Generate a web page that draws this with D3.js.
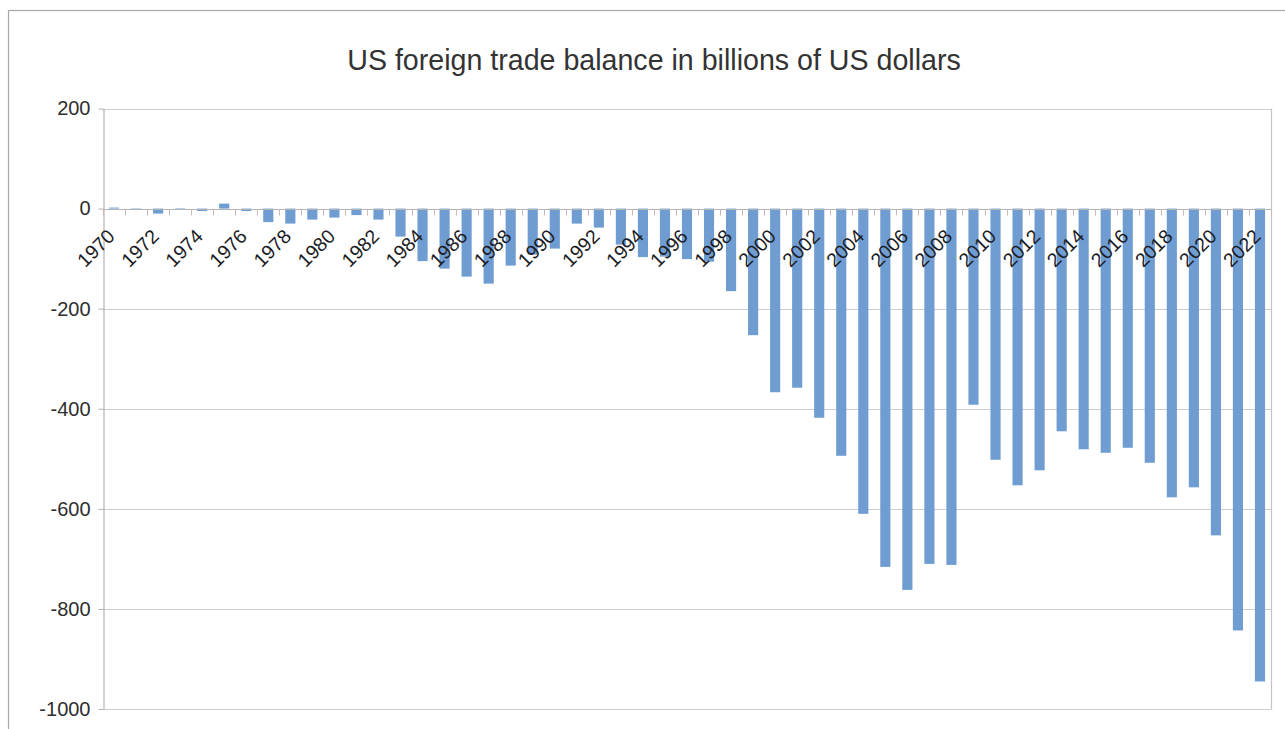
<!DOCTYPE html>
<html>
<head>
<meta charset="utf-8">
<script src="https://cdn.jsdelivr.net/npm/d3@7/dist/d3.min.js"></script>
<style>
  html, body { margin: 0; padding: 0; background: #fff; }
  svg { display: block; font-family: "Liberation Sans", Arial, sans-serif; }
</style>
</head>
<body>
<svg id="chart" width="1285" height="729"></svg>
<script>
// Years on the category axis
const years = [
  1970, 1971, 1972, 1973, 1974, 1975, 1976, 1977, 1978, 1979,
  1980, 1981, 1982, 1983, 1984, 1985, 1986, 1987, 1988, 1989,
  1990, 1991, 1992, 1993, 1994, 1995, 1996, 1997, 1998, 1999,
  2000, 2001, 2002, 2003, 2004, 2005, 2006, 2007, 2008, 2009,
  2010, 2011, 2012, 2013, 2014, 2015, 2016, 2017, 2018, 2019,
  2020, 2021, 2022
];

// Trade balance, billions of US dollars
const balance = [
     2,   -2,  -10,    1,   -5,   10,   -5,  -27,  -30,  -22,
   -18,  -13,  -22,  -56, -105, -120, -136, -150, -114,  -92,
   -80,  -30,  -38,  -72,  -97,  -96, -101, -106, -165, -253,
  -367, -358, -418, -494, -610, -716, -762, -710, -712, -392,
  -502, -553, -523, -445, -481, -488, -478, -508, -577, -557,
  -653, -843, -945
];

// Value-axis ticks and the years that get a label
const yTicks = [200, 0, -200, -400, -600, -800, -1000];
const labelYears = [
  1970, 1972, 1974, 1976, 1978, 1980, 1982, 1984, 1986, 1988,
  1990, 1992, 1994, 1996, 1998, 2000, 2002, 2004, 2006, 2008,
  2010, 2012, 2014, 2016, 2018, 2020, 2022
];

const chartTitle = "US foreign trade balance in billions of US dollars";

const data = years.map((yr, i) => ({ year: yr, value: balance[i] }));

const svg = d3.select("#chart");
const plot = { left: 103, right: 1271, top: 108.5, bottom: 709 };

// Outer chart frame
svg.append("rect")
  .attr("x", 8.5).attr("y", 10.5)
  .attr("width", 1300).attr("height", 740)
  .attr("fill", "#fff")
  .attr("stroke", "#a8a8a8")
  .attr("stroke-width", 1.2);

const x = d3.scaleBand()
  .domain(years)
  .range([plot.left, plot.right])
  .padding(0);

const y = d3.scaleLinear()
  .domain([-1000, 200])
  .range([plot.bottom, plot.top]);

// Horizontal gridlines
svg.append("g")
  .selectAll("line")
  .data(yTicks)
  .join("line")
  .attr("x1", plot.left).attr("x2", plot.right)
  .attr("y1", d => Math.round(y(d)) + 0.5)
  .attr("y2", d => Math.round(y(d)) + 0.5)
  .attr("stroke", "#cdcdcd")
  .attr("stroke-width", 1.2);

// Right edge of plot area
svg.append("line")
  .attr("x1", plot.right + 0.5).attr("x2", plot.right + 0.5)
  .attr("y1", plot.top).attr("y2", plot.bottom + 0.5)
  .attr("stroke", "#c4c4c4")
  .attr("stroke-width", 1.2);

// Value axis (plain hyphen for negative numbers)
const yAxis = d3.axisLeft(y)
  .tickValues(yTicks)
  .tickSize(5)
  .tickSizeOuter(0)
  .tickPadding(8)
  .tickFormat(d => String(d));

const gy = svg.append("g")
  .attr("transform", `translate(${plot.left + 0.5},0)`)
  .call(yAxis);
gy.select(".domain").attr("stroke", "#b3b3b3").attr("stroke-width", 1.2);
gy.selectAll(".tick line").attr("stroke", "#b3b3b3");
gy.selectAll(".tick text")
  .attr("fill", "#2e2e2e")
  .style("font-size", "20px")
  .style("font-family", "\"Liberation Sans\", Arial, sans-serif");

// Bars
const barW = x.bandwidth() * 0.46;
svg.append("g")
  .selectAll("rect")
  .data(data)
  .join("rect")
  .attr("x", d => x(d.year) + (x.bandwidth() - barW) / 2)
  .attr("width", barW)
  .attr("y", d => y(Math.max(0, d.value)))
  .attr("height", d => Math.abs(y(d.value) - y(0)))
  .attr("fill", "#6f9dd2");

// Category axis line at zero with ticks between categories
const y0 = Math.round(y(0)) + 0.5;
svg.append("line")
  .attr("x1", plot.left).attr("x2", plot.right)
  .attr("y1", y0).attr("y2", y0)
  .attr("stroke", "#b3b3b3")
  .attr("stroke-width", 1.2);

const tickPos = years.map(d => x(d)).concat([plot.right]);
svg.append("g")
  .selectAll("line")
  .data(tickPos)
  .join("line")
  .attr("x1", d => Math.round(d) + 0.5)
  .attr("x2", d => Math.round(d) + 0.5)
  .attr("y1", y0)
  .attr("y2", y0 + 6)
  .attr("stroke", "#c9b9b9");

// Rotated year labels
svg.append("g")
  .selectAll("text")
  .data(labelYears)
  .join("text")
  .attr("transform", d => `translate(${x(d) + x.bandwidth() / 2 + 2},${y(0) + 29}) rotate(-45)`)
  .attr("text-anchor", "end")
  .attr("fill", "#1c1c24")
  .style("font-size", "19.5px")
  .text(d => d);

// Title
svg.append("text")
  .attr("x", 654)
  .attr("y", 70)
  .attr("text-anchor", "middle")
  .attr("fill", "#333")
  .style("font-size", "28.6px")
  .text(chartTitle);
</script>
</body>
</html>
